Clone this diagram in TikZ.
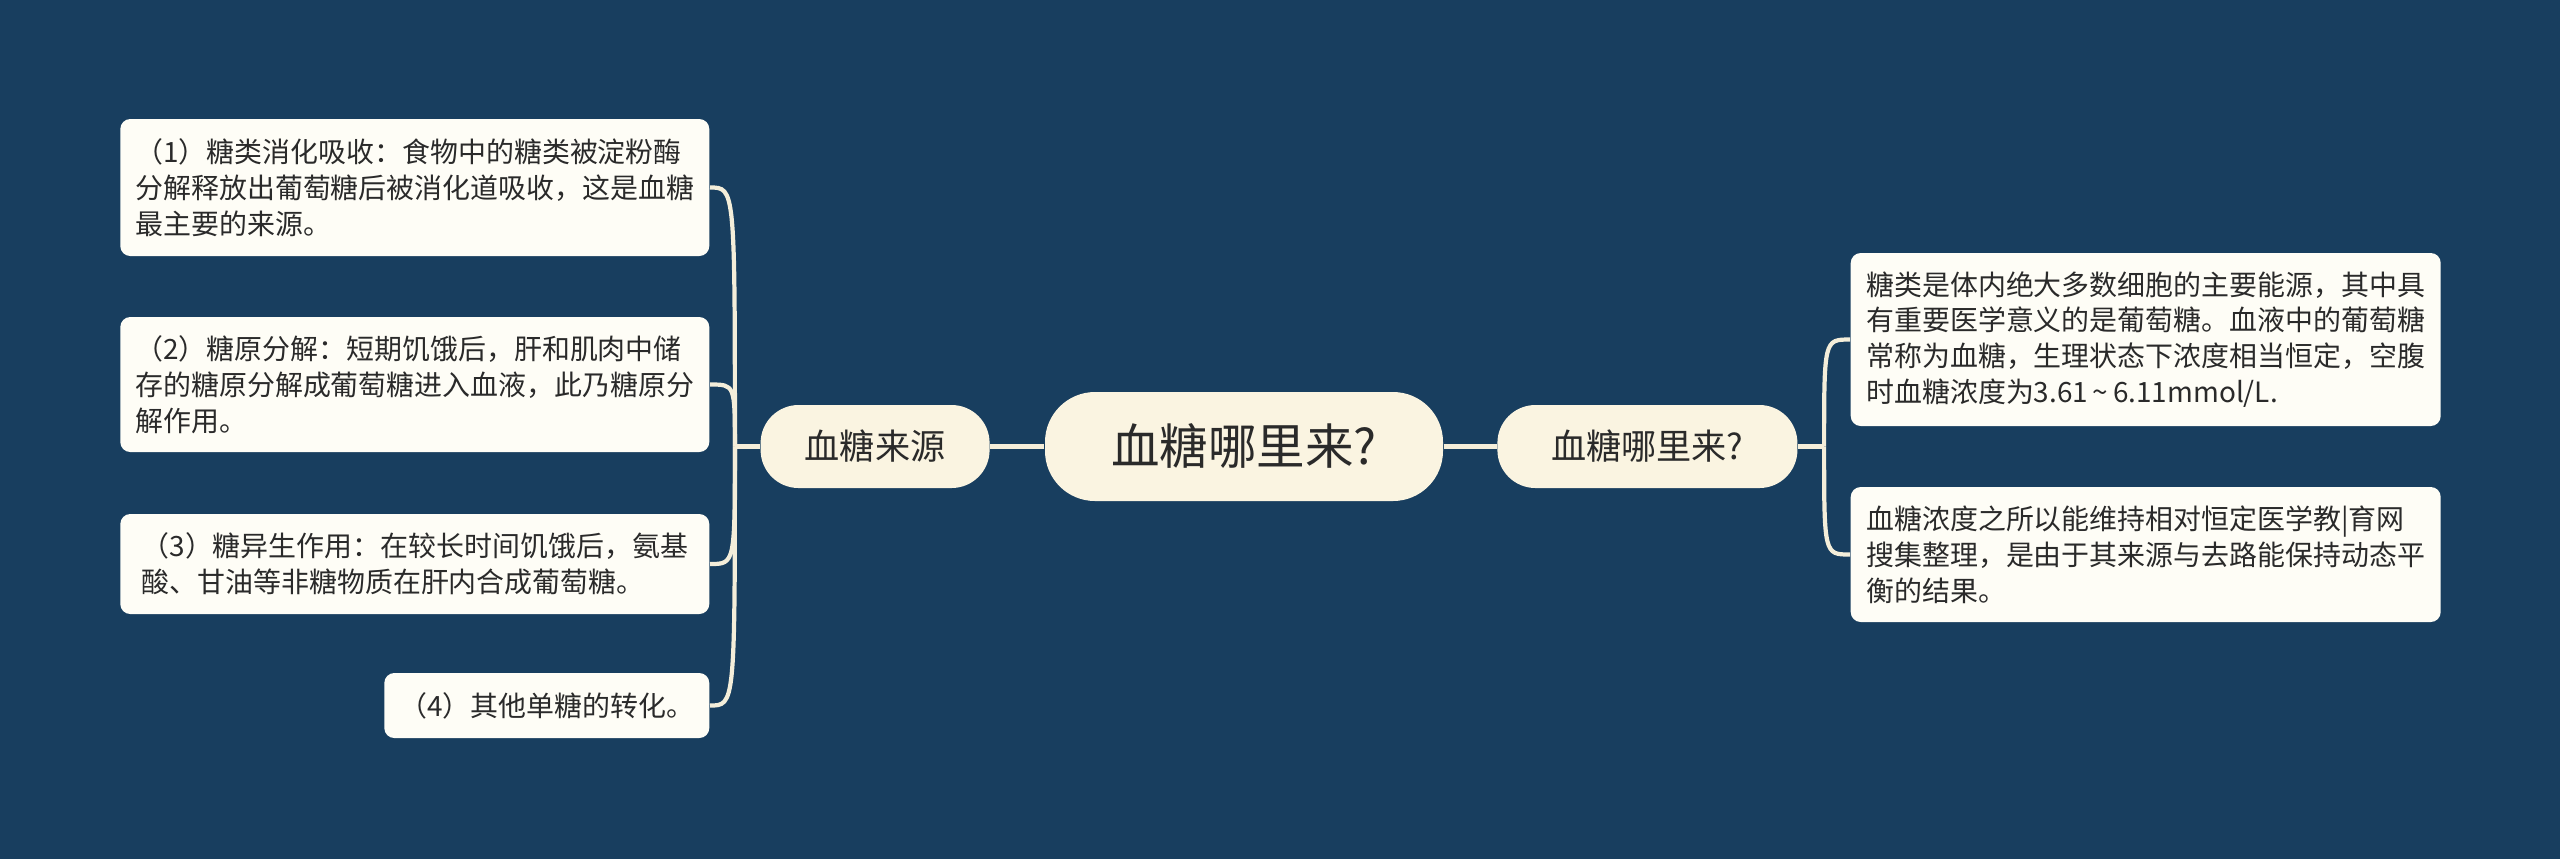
\documentclass[tikz,border=0pt]{standalone}
\usepackage{fontspec}
\newfontfamily\cjk{Noto Sans CJK SC}
\usetikzlibrary{positioning}
\definecolor{bgblue}{HTML}{183E5F}
\definecolor{cream}{HTML}{FAF4E1}
\definecolor{paper}{HTML}{FEFDF6}
\definecolor{ink}{HTML}{2A2A2A}
\definecolor{wire}{HTML}{F4EEDA}
\tikzset{
 root/.style={fill=cream, rounded corners=0.5cm, minimum width=3.98cm, minimum height=1.09cm, inner sep=0pt, text=ink, font=\cjk\fontsize{13.8}{16}\selectfont},
 topic/.style={fill=cream, rounded corners=0.38cm, minimum height=0.83cm, inner sep=0pt, text=ink, font=\cjk\fontsize{10}{12}\selectfont},
 leaf/.style={fill=paper, rounded corners=0.1cm, align=left, inner xsep=0.15cm, inner ysep=0.12cm, text=ink, font=\cjk\fontsize{7.95}{10.2}\selectfont},
 link/.style={draw=wire, line width=1.2pt},
}

\begin{document}
\begin{tikzpicture}
 \fill[bgblue] (0,0) rectangle (25.6,-8.59);
 \useasboundingbox (0,0) rectangle (25.6,-8.59);
% nodes
 \node[root] (root) at (12.44,-4.465) {血糖哪里来?};
 \node[topic, minimum width=2.29cm, left=0.54cm of root] (src) {血糖来源};
 \node[topic, minimum width=3.0cm, right=0.53cm of root] (q) {血糖哪里来?};
 \coordinate[left=0.25cm of src] (jl);
 \coordinate[right=0.26cm of q] (jr);
% left leaves
 \node[leaf, minimum width=5.89cm, minimum height=1.37cm, anchor=east] (s1) at (7.10,-1.875)
  {（1）糖类消化吸收：食物中的糖类被淀粉酶\\分解释放出葡萄糖后被消化道吸收，这是血糖\\最主要的来源。};
 \node[leaf, minimum width=5.89cm, minimum height=1.35cm, anchor=east] (s2) at (7.10,-3.845)
  {（2）糖原分解：短期饥饿后，肝和肌肉中储\\存的糖原分解成葡萄糖进入血液，此乃糖原分\\解作用。};
 \node[leaf, minimum width=5.89cm, minimum height=1.00cm, anchor=east] (s3) at (7.10,-5.64)
  {（3）糖异生作用：在较长时间饥饿后，氨基\\酸、甘油等非糖物质在肝内合成葡萄糖。};
 \node[leaf, minimum width=3.25cm, minimum height=0.65cm, anchor=east] (s4) at (7.10,-7.055)
  {（4）其他单糖的转化。};
% right leaves
 \node[leaf, minimum width=5.90cm, minimum height=1.73cm, anchor=west] (r1) at (18.50,-3.395)
  {糖类是体内绝大多数细胞的主要能源，其中具\\有重要医学意义的是葡萄糖。血液中的葡萄糖\\常称为血糖，生理状态下浓度相当恒定，空腹\\时血糖浓度为3.61\,\textasciitilde\,6.11mmol/L.};
 \node[leaf, minimum width=5.90cm, minimum height=1.35cm, anchor=west] (r2) at (18.50,-5.545)
  {血糖浓度之所以能维持相对恒定医学教|育网\\搜集整理，是由于其来源与去路能保持动态平\\衡的结果。};
% edges
 \draw[link] (root) -- (src);
 \draw[link] (root) -- (q);
 \draw[link] (src.west) -- (jl);
 \draw[link] (q.east) -- (jr);
 \foreach \n in {s1,s2,s3,s4}
  \draw[link] (jl) .. controls (jl |- \n.east) .. (\n.east);
 \foreach \n in {r1,r2}
  \draw[link] (jr) .. controls (jr |- \n.west) .. (\n.west);
\end{tikzpicture}
\end{document}
